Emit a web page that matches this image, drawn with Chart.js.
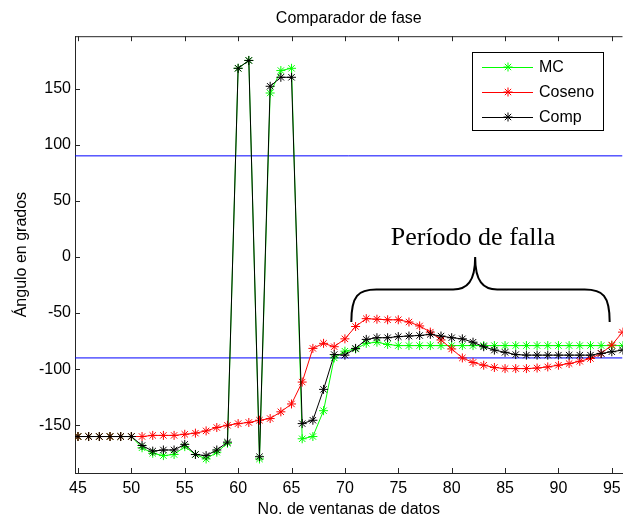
<!DOCTYPE html>
<html>
<head>
<meta charset="utf-8">
<title>Comparador de fase</title>
<script src="https://cdn.jsdelivr.net/npm/chart.js@4/dist/chart.umd.min.js"></script>
<style>
    html, body { margin: 0; padding: 0; background: #fff; overflow: hidden; }
    #wrap { width: 623px; height: 516px; overflow: hidden; }
    canvas { display: block; }
</style>
</head>
<body>
<div id="wrap"><canvas id="chart" width="628" height="516"></canvas></div>
<script>
// Window numbers (x) and the three phase-angle estimates, in degrees
const ventanas = [45, 46, 47, 48, 49, 50, 51, 52, 53, 54, 55, 56, 57, 58, 59, 60, 61, 62, 63, 64,
    65, 66, 67, 68, 69, 70, 71, 72, 73, 74, 75, 76, 77, 78, 79, 80, 81, 82, 83, 84,
    85, 86, 87, 88, 89, 90, 91, 92, 93, 94, 95, 96];

const mcValues = [-160, -160, -160, -160, -160, -160, -170, -175, -177, -176, -169, -176, -180, -174, -166,
    168, 175, -180, 146, 166, 168,
    -162, -160, -137, -90, -84,
    -82, -77, -76, -78, -79, -79, -79, -79, -79, -79, -79, -79, -79, -79, -79, -79,
    -79, -79, -79, -79, -79, -79, -79, -79, -79, -79];

const cosenoValues = [-160, -160, -160, -160, -160, -160, -160, -159, -159, -159, -158, -157, -155, -152, -150,
    -148.5, -147.5, -145.5, -144, -138, -131, -111.5, -81.5, -77, -80, -73,
    -62, -55, -55.5, -56, -56, -58, -61.5, -67, -74, -82, -90, -94, -96.5, -98.5,
    -99.5, -99.5, -99.5, -99, -98, -96.5, -95, -93, -90.5, -86, -78.5, -67];

const compValues = [-160, -160, -160, -160, -160, -160, -168, -173, -172, -172, -167, -176, -177, -172, -165,
    168, 175, -178, 152, 160, 160,
    -148.5, -145.5, -118, -87, -87.5,
    -81.5, -73.5, -72, -72, -71, -70.5, -70, -69, -70.5, -72, -73, -76, -80, -83,
    -85, -87, -87.5, -87.5, -87.5, -87.5, -87.5, -87.5, -87.5, -86, -84.5, -83];

const limitLevels = [90, -90];

const xTicks = [45, 50, 55, 60, 65, 70, 75, 80, 85, 90, 95];
const yTicks = [-150, -100, -50, 0, 50, 100, 150];
const xRange = [44.72, 96];
const yRange = [-192.5, 196.6];

// "Período de falla" brace, anchored in data units
const braceX = [70.6, 82.2, 94.8];
const braceY = [-58, -29, 0];
const faultLabel = { text: 'Período de falla', x: 82, y: 10.4 };

const axisColor = '#262626';
const sansFont = "'Liberation Sans', Arial, sans-serif";

Chart.defaults.font.family = sansFont;
Chart.defaults.color = '#000';

function toPoints(values) {
    return ventanas.map((v, i) => ({ x: v, y: values[i] }));
}

function seriesDataset(label, values, color, order) {
    return {
        label,
        data: toPoints(values),
        borderColor: color,
        backgroundColor: color,
        borderWidth: 1,
        pointStyle: 'star',
        pointRadius: 4.5,
        pointBorderWidth: 1,
        pointBorderColor: color,
        tension: 0,
        order
    };
}

function limitDataset(level) {
    return {
        label: '',
        data: xRange.map(x => ({ x, y: level })),
        borderColor: '#0000ff',
        borderWidth: 1,
        pointRadius: 0,
        order: 4
    };
}

// MATLAB-style ticks pointing into the plot, plus the top frame line
const insideTicks = {
    id: 'insideTicks',
    afterDraw(chart) {
        const { ctx, chartArea: a, scales: { x, y } } = chart;
        ctx.save();
        ctx.strokeStyle = axisColor;
        ctx.lineWidth = 1;
        ctx.beginPath();
        ctx.moveTo(a.left, a.top + 0.5);
        ctx.lineTo(a.right, a.top + 0.5);
        x.ticks.forEach(t => {
            const px = Math.round(x.getPixelForValue(t.value)) + 0.5;
            ctx.moveTo(px, a.bottom);
            ctx.lineTo(px, a.bottom - 5);
            ctx.moveTo(px, a.top);
            ctx.lineTo(px, a.top + 5);
        });
        y.ticks.forEach(t => {
            const py = Math.round(y.getPixelForValue(t.value)) + 0.5;
            ctx.moveTo(a.left, py);
            ctx.lineTo(a.left + 5, py);
        });
        ctx.stroke();
        ctx.restore();
    }
};

// Boxed legend in the top-right corner, built from the labelled datasets
const boxedLegend = {
    id: 'boxedLegend',
    afterDraw(chart) {
        const { ctx } = chart;
        const items = chart.data.datasets.filter(d => d.label);
        const box = { left: 472, top: 52, width: 131, height: 78 };
        ctx.save();
        ctx.fillStyle = '#fff';
        ctx.fillRect(box.left, box.top, box.width, box.height);
        ctx.strokeStyle = '#000';
        ctx.lineWidth = 1;
        ctx.strokeRect(box.left + 0.5, box.top + 0.5, box.width, box.height);
        ctx.font = '16px ' + sansFont;
        ctx.textBaseline = 'middle';
        ctx.textAlign = 'left';
        items.forEach((d, i) => {
            const yy = box.top + 15 + i * 25;
            ctx.strokeStyle = d.borderColor;
            ctx.beginPath();
            ctx.moveTo(box.left + 10, yy + 0.5);
            ctx.lineTo(box.left + 61, yy + 0.5);
            ctx.stroke();
            Chart.helpers.drawPoint(ctx, { pointStyle: 'star', radius: 4.5, rotation: 0, borderWidth: 1 },
                box.left + 36, yy);
            ctx.fillStyle = '#000';
            ctx.fillText(d.label, box.left + 67, yy + 1);
        });
        ctx.restore();
    }
};

// Curly brace and its caption marking the fault period
const faultBrace = {
    id: 'faultBrace',
    afterDraw(chart) {
        const { ctx, scales: { x, y } } = chart;
        const x0 = x.getPixelForValue(braceX[0]);
        const xm = x.getPixelForValue(braceX[1]);
        const x1 = x.getPixelForValue(braceX[2]);
        const yEnd = y.getPixelForValue(braceY[0]);
        const yMid = y.getPixelForValue(braceY[1]);
        const yPeak = y.getPixelForValue(braceY[2]);
        ctx.save();
        ctx.strokeStyle = '#000';
        ctx.lineWidth = 2;
        ctx.beginPath();
        ctx.moveTo(x0, yEnd);
        ctx.bezierCurveTo(x0, yMid + 6, x0 + 7, yMid, x0 + 25, yMid);
        ctx.lineTo(xm - 22, yMid);
        ctx.bezierCurveTo(xm - 8, yMid, xm, yMid - 8, xm, yPeak);
        ctx.bezierCurveTo(xm, yMid - 8, xm + 8, yMid, xm + 22, yMid);
        ctx.lineTo(x1 - 25, yMid);
        ctx.bezierCurveTo(x1 - 7, yMid, x1, yMid + 6, x1, yEnd);
        ctx.stroke();
        ctx.font = "26px 'Liberation Serif', 'Times New Roman', serif";
        ctx.fillStyle = '#000';
        ctx.textAlign = 'center';
        ctx.textBaseline = 'alphabetic';
        ctx.fillText(faultLabel.text, x.getPixelForValue(faultLabel.x), y.getPixelForValue(faultLabel.y));
        ctx.restore();
    }
};

new Chart(document.getElementById('chart').getContext('2d'), {
    type: 'line',
    data: {
        datasets: [
            seriesDataset('MC', mcValues, '#00ff00', 3),
            seriesDataset('Coseno', cosenoValues, '#ff0000', 2),
            seriesDataset('Comp', compValues, '#000000', 1),
            ...limitLevels.map(limitDataset)
        ]
    },
    options: {
        responsive: false,
        animation: false,
        devicePixelRatio: 1,
        layout: { padding: { left: 0, right: 2, top: 0, bottom: 0 } },
        plugins: {
            legend: { display: false },
            tooltip: { enabled: false },
            title: {
                display: true,
                text: 'Comparador de fase',
                fullSize: false,
                color: '#000',
                font: { size: 16, weight: 'normal' },
                padding: { top: 9, bottom: 8 }
            }
        },
        scales: {
            x: {
                type: 'linear',
                min: xRange[0],
                max: xRange[1],
                afterBuildTicks: s => { s.ticks = xTicks.map(v => ({ value: v })); },
                afterFit: s => { s.height = 43; },
                grid: { display: false, drawTicks: false },
                border: { display: true, color: axisColor, width: 1 },
                ticks: { autoSkip: false, maxRotation: 0, padding: 6, color: '#000', font: { size: 16 } },
                title: {
                    display: true,
                    text: 'No. de ventanas de datos',
                    color: '#000',
                    font: { size: 16, lineHeight: 0.75 },
                    padding: 0
                }
            },
            y: {
                type: 'linear',
                min: yRange[0],
                max: yRange[1],
                afterBuildTicks: s => { s.ticks = yTicks.map(v => ({ value: v })); },
                afterFit: s => { s.width = 75; },
                grid: { display: false, drawTicks: false },
                border: { display: true, color: axisColor, width: 1 },
                ticks: { padding: 4, color: '#000', font: { size: 16 } },
                title: {
                    display: true,
                    text: 'Ángulo en grados',
                    color: '#000',
                    font: { size: 16 },
                    padding: { top: 12, bottom: 0 }
                }
            }
        }
    },
    plugins: [insideTicks, faultBrace, boxedLegend]
});
</script>
</body>
</html>
